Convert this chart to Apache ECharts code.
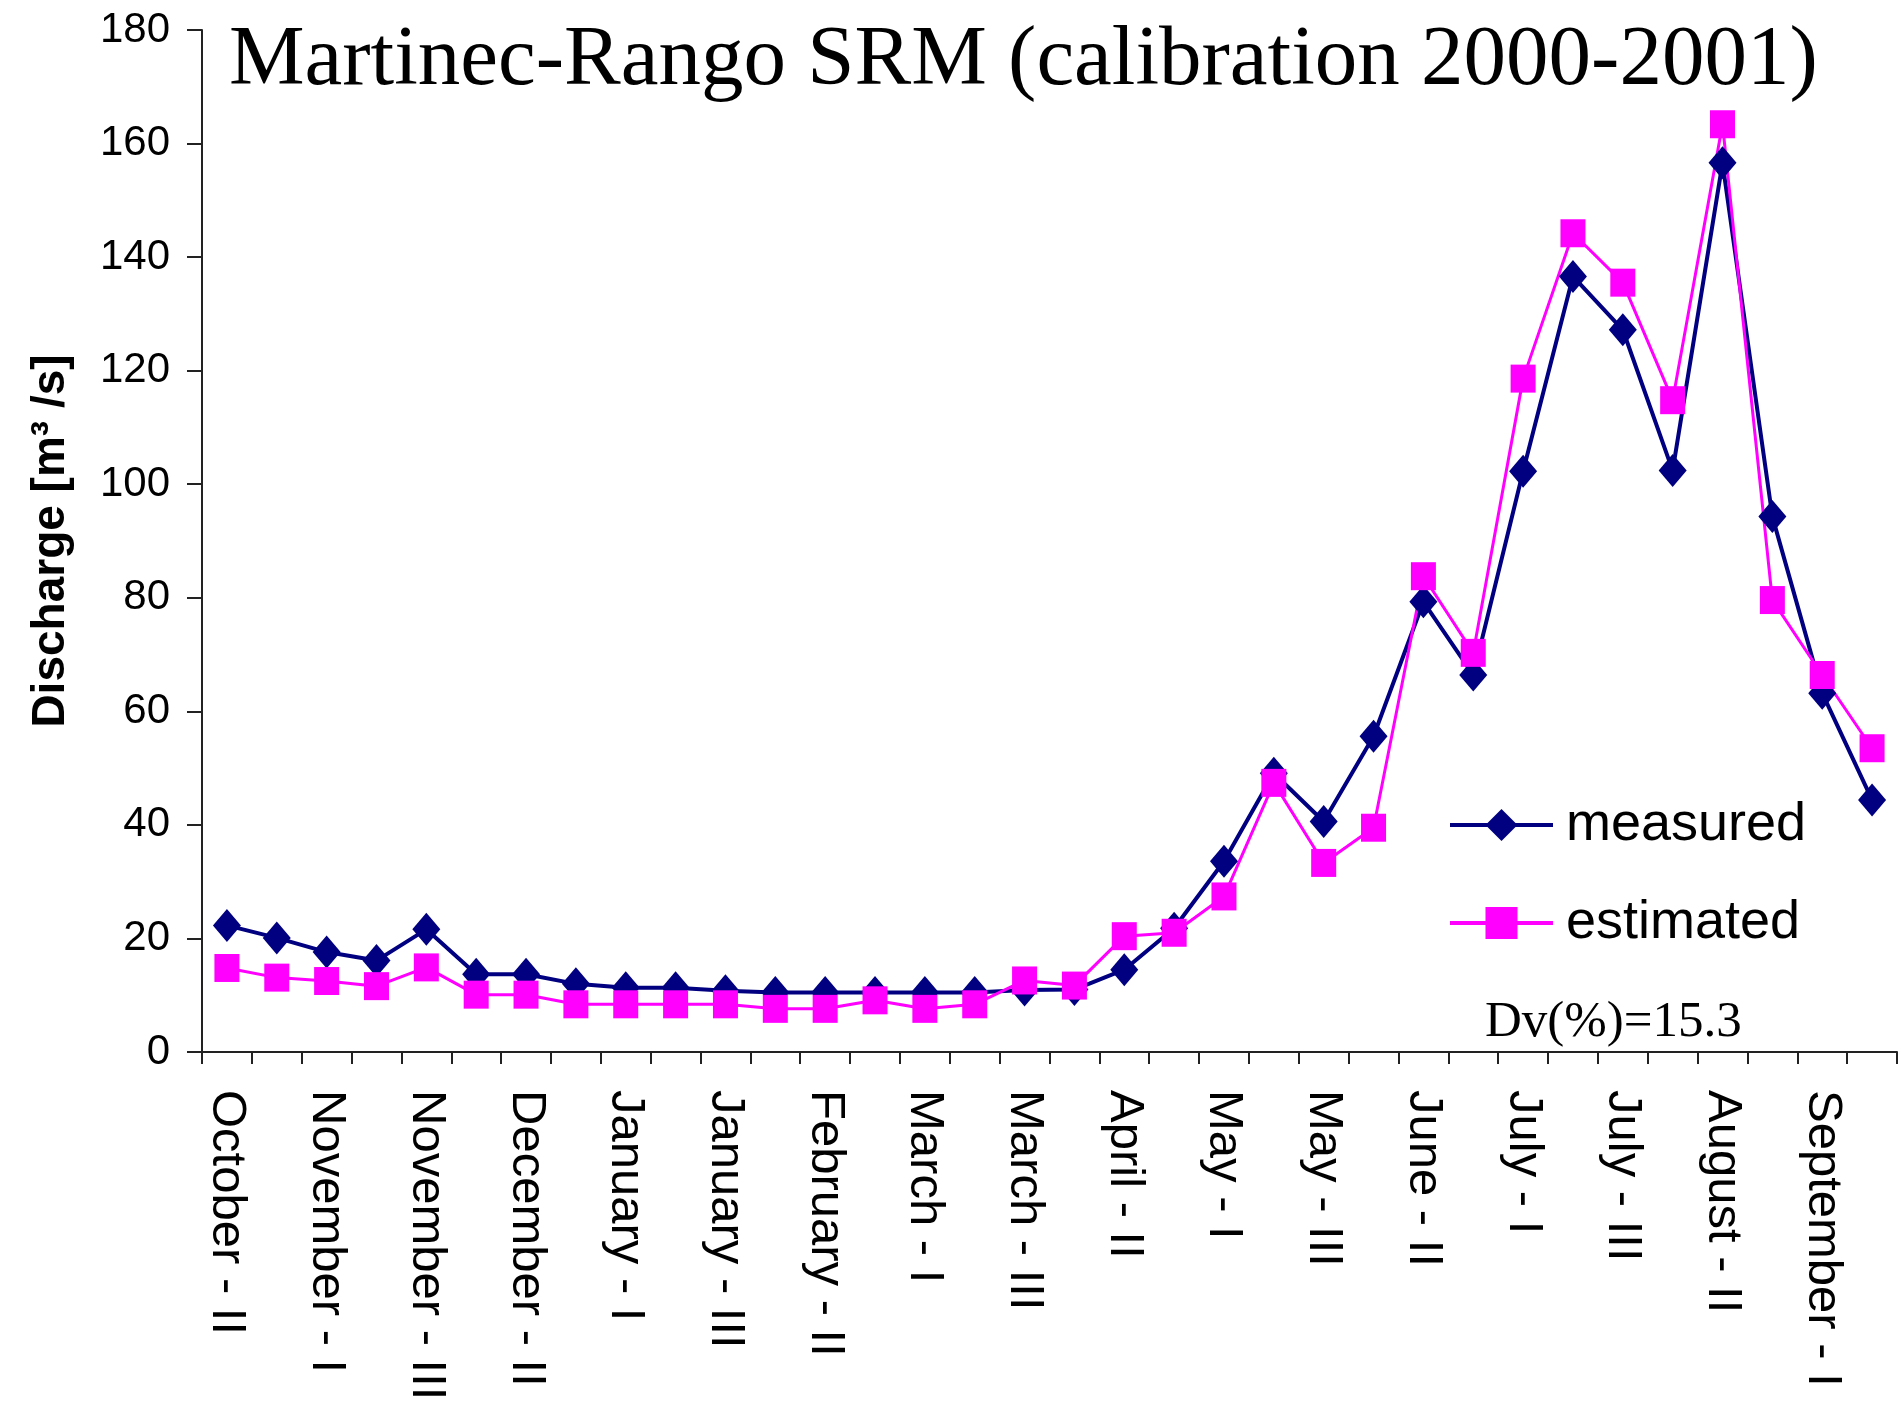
<!DOCTYPE html>
<html>
<head>
<meta charset="utf-8">
<title>Martinec-Rango SRM</title>
<script src="https://cdn.jsdelivr.net/npm/echarts@6/dist/echarts.min.js"></script>
<style>
  html, body { margin: 0; padding: 0; background: #fff; }
  #chart { width: 1901px; height: 1414px; }
</style>
</head>
<body>
<div id="chart"></div>
<script>
// dekads from October II to September II
var categories = [
  'October - II', 'October - III', 'November - I', 'November - II', 'November - III',
  'December - I', 'December - II', 'December - III', 'January - I', 'January - II',
  'January - III', 'February - I', 'February - II', 'February - III', 'March - I',
  'March - II', 'March - III', 'April - I', 'April - II', 'April - III',
  'May - I', 'May - II', 'May - III', 'June - I', 'June - II', 'June - III',
  'July - I', 'July - II', 'July - III', 'August - I', 'August - II', 'August - III',
  'September - I', 'September - II'
];
var measured = [
  22.3, 20.1, 17.6, 16.1, 21.6, 13.7, 13.7, 12.0, 11.3, 11.3,
  10.8, 10.5, 10.5, 10.5, 10.5, 10.5, 10.9, 11.0, 14.5, 21.8,
  33.6, 49.1, 40.6, 55.6, 79.3, 66.4, 102.3, 136.6, 127.2, 102.4,
  156.6, 94.3, 63.2, 44.4
];
var estimated = [
  14.8, 13.1, 12.5, 11.6, 14.9, 10.1, 10.1, 8.4, 8.4, 8.4,
  8.4, 7.6, 7.6, 9.1, 7.6, 8.4, 12.6, 11.7, 20.4, 21.0,
  27.4, 47.4, 33.3, 39.5, 83.8, 70.3, 118.6, 144.2, 135.5, 114.8,
  163.4, 79.6, 66.4, 53.5
];
var titleText = 'Martinec-Rango SRM (calibration 2000-2001)';
var dvText = 'Dv(%)=15.3';

var chart = echarts.init(document.getElementById('chart'));
chart.setOption({
  backgroundColor: '#fff',
  animation: false,
  grid: { left: 202, right: 4, top: 30, bottom: 362 },
  legend: {
    orient: 'vertical',
    left: 1443,
    top: 790,
    itemWidth: 103,
    itemHeight: 40,
    itemGap: 38,
    lineStyle: { width: 4 },
    textStyle: { fontFamily: 'Liberation Sans', fontSize: 54, color: '#000', lineHeight: 60, padding: [0, 0, 0, 8] },
    data: ['measured', 'estimated']
  },
  graphic: [
    {
      type: 'text', left: 229, top: 19,
      style: { text: titleText, font: '85px "Liberation Serif"', fill: '#000' }
    },
    {
      type: 'text', left: 1485, top: 997,
      style: { text: dvText, font: '51px "Liberation Serif"', fill: '#000' }
    }
  ],
  xAxis: {
    type: 'category',
    data: categories,
    boundaryGap: true,
    axisLine: { lineStyle: { color: '#222', width: 2 } },
    axisTick: { show: true, interval: 0, length: 12, lineStyle: { color: '#222', width: 2 } },
    axisLabel: {
      interval: 1, rotate: -90, margin: 38,
      fontFamily: 'Liberation Sans', fontSize: 49, color: '#000'
    },
    splitLine: { show: false }
  },
  yAxis: {
    type: 'value',
    min: 0, max: 180, interval: 20,
    name: 'Discharge [m³ /s]',
    nameLocation: 'middle',
    nameGap: 128,
    nameRotate: 90,
    nameTextStyle: { fontFamily: 'Liberation Sans', fontWeight: 'bold', fontSize: 46, color: '#000' },
    axisLine: { show: true, lineStyle: { color: '#222', width: 2 } },
    axisTick: { show: true, length: 15, lineStyle: { color: '#222', width: 2 } },
    axisLabel: { margin: 32, fontFamily: 'Liberation Sans', fontSize: 42, color: '#000' },
    splitLine: { show: false }
  },
  series: [
    {
      name: 'measured',
      type: 'line',
      data: measured,
      symbol: 'diamond',
      symbolSize: [28, 33],
      lineStyle: { color: '#000080', width: 4 },
      itemStyle: { color: '#000080' }
    },
    {
      name: 'estimated',
      type: 'line',
      data: estimated,
      symbol: 'rect',
      symbolSize: [25, 28],
      lineStyle: { color: '#ff00ff', width: 3 },
      itemStyle: { color: '#ff00ff' }
    }
  ]
});
</script>
</body>
</html>
